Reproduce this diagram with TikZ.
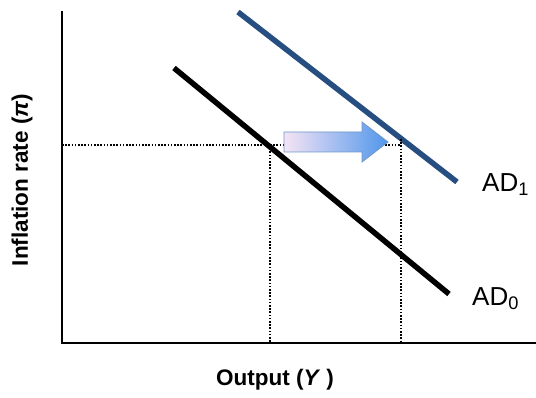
\documentclass[tikz,border=0pt]{standalone}
\usepackage{fontspec}
\setmainfont{Liberation Sans}
\definecolor{adblue}{RGB}{38,78,128}
\definecolor{arrowL}{RGB}{245,228,245}
\definecolor{arrowR}{RGB}{80,150,235}
\definecolor{arrowEdge}{RGB}{110,150,200}
\begin{document}
\begin{tikzpicture}[x=1pt,y=-1pt,
  axis/.style={line width=2.6pt},
  curve/.style={line width=5.5pt},
  guide/.style={line width=1.6pt,dash pattern=on 1.6pt off 1.6pt},
  shiftarrow/.style={draw=arrowEdge,line width=0.8pt,left color=arrowL,right color=arrowR,line join=miter},
  curvelabel/.style={font=\fontsize{26}{28}\selectfont,anchor=west,inner sep=0pt},
  axislabel/.style={font=\fontsize{22.5}{26}\selectfont\bfseries,inner sep=0pt}]
\useasboundingbox (0,0) rectangle (536,398);
% axes
\coordinate (top) at (62,11);
\coordinate (origin) at (62,343);
\coordinate (right) at (536,343);
\draw[axis] (top) -- (origin) -- (right);
% curves
\coordinate (a0s) at (174,68);
\coordinate (a0e) at (449,294);
\coordinate (a1s) at (238,12);
\coordinate (a1e) at (457,182);
\draw[curve] (a0s) -- (a0e);
\draw[curve,adblue] (a1s) -- (a1e);
% guides
\coordinate (ylev) at (62,145);
\coordinate (p0) at (270,145);
\coordinate (p1) at (401,139);
\coordinate (p1h) at (401,145);
\coordinate (b0) at (270,343);
\coordinate (b1) at (401,343);
\draw[guide] (ylev) -- (p1h);
\draw[guide] (p0) -- (b0);
\draw[guide] (p1) -- (b1);
% arrow
\path[shiftarrow] (284,132) -- (362,132) -- (362,122) -- (388,142) -- (362,162)
  -- (362,152) -- (284,152) -- cycle;
% labels
\node (ad1) [curvelabel] at (482,185) {AD\textsubscript{1}};
\node (ad0) [curvelabel] at (472,299) {AD\textsubscript{0}};
\node (ylab) [axislabel,rotate=90] at (22,180) {Inflation rate (\textit{π})};
\node (xlab) [axislabel] at (275,380) {Output (\textit{Y} )};
\end{tikzpicture}
\end{document}
